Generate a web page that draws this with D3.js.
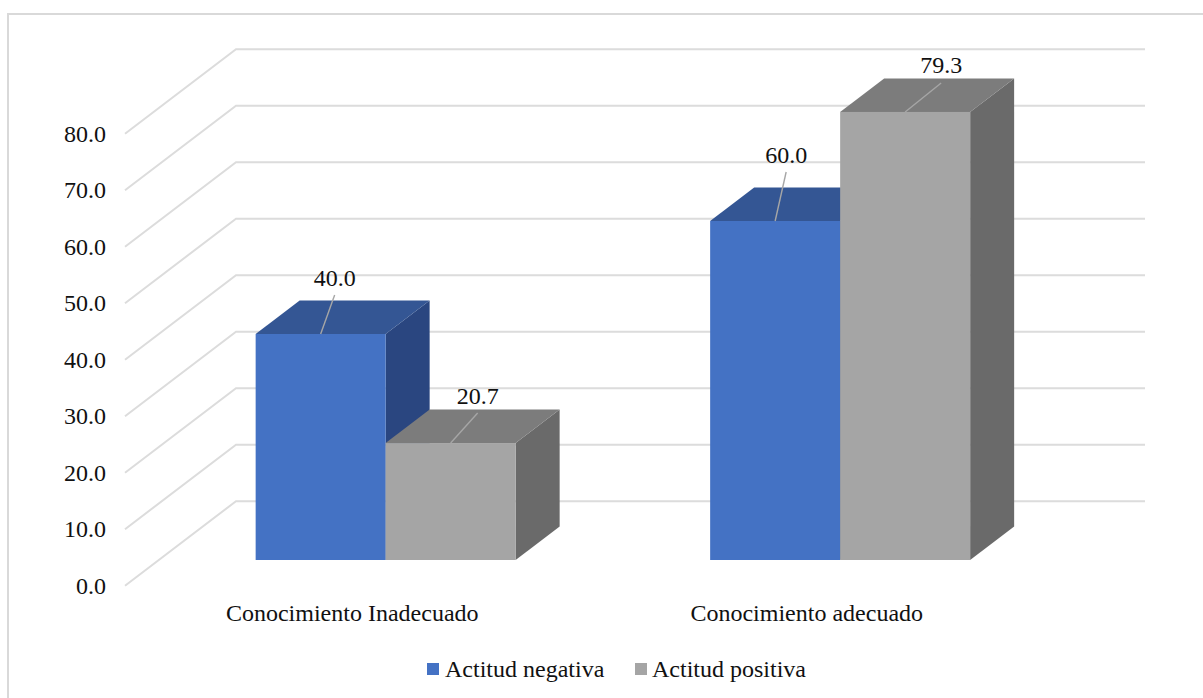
<!DOCTYPE html>
<html lang="es">
<head>
<meta charset="utf-8">
<script src="https://cdnjs.cloudflare.com/ajax/libs/d3/7.8.5/d3.min.js"></script>
<style>
  html, body { margin: 0; padding: 0; background: #fff; }
  svg { display: block; }
  text { font-family: "Liberation Serif", serif; fill: #111; }
</style>
</head>
<body>
<svg id="chart" width="1203" height="698"></svg>
<script>
// Chart values
const categories = ["Conocimiento Inadecuado", "Conocimiento adecuado"];
const seriesNames = ["Actitud negativa", "Actitud positiva"];
const actitudNegativa = [40.0, 60.0];
const actitudPositiva = [20.7, 79.3];
const tickValues = [0, 10, 20, 30, 40, 50, 60, 70, 80];

// Face colours per series: front, top, side
const faces = [
  { front: "#4472c4", top: "#345694", side: "#2a4680" },
  { front: "#a5a5a5", top: "#7c7c7c", side: "#6a6a6a" }
];

// Layout of the oblique projection
const floor = { left: 125, right: 1034, front: 585.7 };
const wall = { dx: 111, dy: -84.5, right: 1145 };
const barPlane = { dx: 33.4, dy: -25.7 };
const barDepth = { dx: 44, dy: -33.5 };
const barWidth = 130;
const fontSize = 24;

// Label anchors relative to each bar's front top edge centre
const leaders = [
  [{ lx: 14, ly: -39, ty: -56 }, { lx: 27, ly: -30, ty: -47 }],
  [{ lx: 11, ly: -49, ty: -66 }, { lx: 36, ly: -29, ty: -47 }]
];

const svg = d3.select("#chart");

// Outer frame, open past the right and bottom edges
svg.append("path")
  .attr("d", "M8,698V14H1203")
  .attr("fill", "none")
  .attr("stroke", "#d9d9d9")
  .attr("stroke-width", 2);

const y = d3.scaleLinear().domain([0, 80]).range([floor.front, floor.front - 452]);
const x0 = d3.scaleBand().domain(categories).range([floor.left, floor.right]);

// Side wall and back wall gridlines
svg.append("g").selectAll("path").data(tickValues).join("path")
  .attr("d", d => {
    const py = y(d);
    return `M${floor.left},${py}L${floor.left + wall.dx},${py + wall.dy}H${wall.right}`;
  })
  .attr("fill", "none")
  .attr("stroke", "#dcdcdc")
  .attr("stroke-width", 2);

// Value axis labels
const yAxis = svg.append("g")
  .attr("transform", `translate(${floor.left - 19},0)`)
  .call(d3.axisLeft(y).tickValues(tickValues).tickFormat(d3.format(".1f")).tickSize(0).tickPadding(0));
yAxis.select(".domain").remove();
yAxis.selectAll("text").attr("font-size", fontSize).attr("font-family", "Liberation Serif").attr("fill", "#111");

// Category labels
const xAxis = svg.append("g")
  .attr("transform", `translate(0,${floor.front + 18.5})`)
  .call(d3.axisBottom(x0).tickSize(0).tickPadding(0));
xAxis.select(".domain").remove();
xAxis.selectAll("text").attr("font-size", fontSize).attr("font-family", "Liberation Serif").attr("fill", "#111");

// Boxes: one per series within each category
const seriesValues = [actitudNegativa, actitudPositiva];
const bars = [];
categories.forEach((c, ci) => {
  seriesValues.forEach((vals, si) => bars.push({ ci, si, value: vals[ci], category: c }));
});

const baseY = floor.front + barPlane.dy;
const barX = d => x0(d.category) + x0.bandwidth() / 2 + barPlane.dx + (d.si - 1) * barWidth;
const barTop = d => y(d.value) + barPlane.dy;

const box = svg.append("g").selectAll("g").data(bars).join("g");

box.append("path") // side face
  .attr("fill", d => faces[d.si].side)
  .attr("d", d => {
    const r = barX(d) + barWidth;
    return `M${r},${barTop(d)}l${barDepth.dx},${barDepth.dy}V${baseY + barDepth.dy}l${-barDepth.dx},${-barDepth.dy}Z`;
  });

box.append("path") // top face
  .attr("fill", d => faces[d.si].top)
  .attr("d", d => `M${barX(d)},${barTop(d)}l${barDepth.dx},${barDepth.dy}h${barWidth}l${-barDepth.dx},${-barDepth.dy}Z`);

box.append("rect") // front face
  .attr("fill", d => faces[d.si].front)
  .attr("x", barX)
  .attr("y", barTop)
  .attr("width", barWidth)
  .attr("height", d => baseY - barTop(d));

// Value labels with leader lines
const labelLayer = svg.append("g");
bars.forEach(d => {
  const a = leaders[d.ci][d.si];
  const cx = barX(d) + barWidth / 2;
  const top = barTop(d);
  labelLayer.append("line")
    .attr("x1", cx).attr("y1", top)
    .attr("x2", cx + a.lx).attr("y2", top + a.ly)
    .attr("stroke", "#a6a6a6").attr("stroke-width", 1.4);
  labelLayer.append("text")
    .attr("x", cx + a.lx).attr("y", top + a.ty)
    .attr("text-anchor", "middle").attr("dy", "0.32em")
    .attr("font-size", fontSize)
    .text(d3.format(".1f")(d.value));
});

// Legend
const legendItems = [{ sw: 427, tx: 445 }, { sw: 635, tx: 652 }];
const legend = svg.append("g").selectAll("g").data(seriesNames).join("g");
legend.append("rect")
  .attr("x", (d, i) => legendItems[i].sw).attr("y", 663)
  .attr("width", 12).attr("height", 12)
  .attr("fill", (d, i) => faces[i].front);
legend.append("text")
  .attr("x", (d, i) => legendItems[i].tx).attr("y", 677)
  .attr("font-size", fontSize)
  .text(d => d);
</script>
</body>
</html>
